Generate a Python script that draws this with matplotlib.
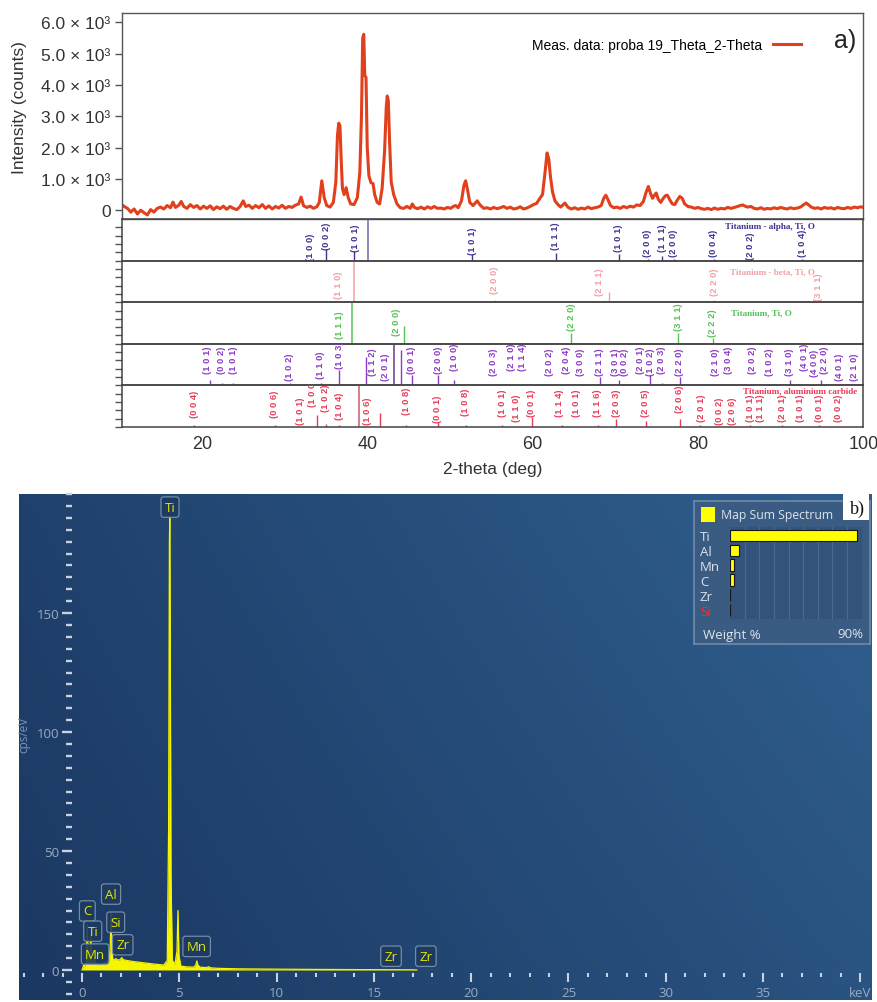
import matplotlib
matplotlib.use("Agg")
import matplotlib.pyplot as plt
import numpy as np
from matplotlib.patches import Rectangle
from matplotlib.ticker import FixedLocator, MultipleLocator

# ---------------- XRD measured pattern (2-theta, counts) ----------------
xrd_2theta = [10.0, 10.3, 10.6, 11.0, 11.4, 11.8, 12.2, 12.6, 13.0, 13.4, 13.8, 14.2, 14.6, 15.0,
              15.4, 15.8, 16.2, 16.5, 16.8, 17.2, 17.5, 17.8, 18.2, 18.6, 19.0, 19.4, 19.8, 20.2,
              20.6, 21.0, 21.4, 21.8, 22.2, 22.6, 23.0, 23.4, 23.8, 24.2, 24.6, 25.0, 25.3, 25.7,
              26.1, 26.5, 26.9, 27.3, 27.7, 28.1, 28.5, 28.9, 29.3, 29.7, 30.1, 30.5, 30.9, 31.3,
              31.7, 32.0, 32.3, 32.7, 33.1, 33.5, 33.9, 34.2, 34.5, 34.8, 35.1, 35.5, 35.9, 36.2,
              36.4, 36.55, 36.7, 36.85, 37.0, 37.2, 37.45, 37.7, 38.0, 38.4, 38.8, 39.1, 39.3, 39.45,
              39.58, 39.7, 39.85, 40.0, 40.2, 40.45, 40.7, 40.9, 41.2, 41.5, 41.8, 42.1, 42.3, 42.42,
              42.55, 42.7, 42.9, 43.2, 43.6, 44.0, 44.4, 44.8, 45.2, 45.45, 45.7, 46.1, 46.5, 46.9,
              47.3, 47.7, 48.1, 48.5, 48.9, 49.3, 49.7, 50.1, 50.4, 50.7, 51.0, 51.4, 51.7, 51.9,
              52.1, 52.4, 52.8, 53.3, 53.7, 54.1, 54.5, 54.9, 55.3, 55.7, 56.1, 56.5, 56.9, 57.3,
              57.7, 58.1, 58.5, 58.9, 59.3, 59.7, 60.1, 60.5, 60.8, 61.2, 61.5, 61.75, 61.95, 62.15,
              62.4, 62.7, 63.0, 63.4, 63.9, 64.3, 64.7, 65.1, 65.5, 65.9, 66.3, 66.7, 67.1, 67.5,
              67.9, 68.3, 68.6, 68.85, 69.1, 69.4, 69.8, 70.2, 70.6, 71.0, 71.4, 71.8, 72.2, 72.6,
              73.0, 73.4, 73.7, 74.0, 74.25, 74.5, 74.75, 74.95, 75.2, 75.5, 75.8, 76.1, 76.3, 76.6,
              76.9, 77.2, 77.5, 77.8, 78.1, 78.4, 78.8, 79.2, 79.6, 80.0, 80.4, 80.8, 81.2, 81.6,
              82.0, 82.4, 82.8, 83.2, 83.6, 84.0, 84.4, 84.8, 85.1, 85.4, 85.7, 86.0, 86.4, 86.8,
              87.2, 87.6, 88.0, 88.4, 88.8, 89.2, 89.6, 90.0, 90.4, 90.8, 91.2, 91.6, 92.0, 92.4,
              92.8, 93.1, 93.4, 93.7, 94.1, 94.5, 94.9, 95.3, 95.7, 96.1, 96.5, 96.9, 97.3, 97.7,
              98.1, 98.5, 98.9, 99.3, 99.7, 100.0]
xrd_counts = [230, 180, 120, 60, -60, 40, -120, 0, -80, -150, 20, -60, 60, 100,
              40, 150, 80, 260, 90, 160, 280, 120, 60, 180, 90, 150, 40, 130,
              60, 140, 20, 110, 50, 130, 30, 120, 60, 20, 110, 300, 120, 160,
              60, 150, 80, 180, 60, 140, 40, 120, 70, 160, 60, 120, 90, 160,
              200, 420, 140, 90, 130, 60, 110, 250, 940, 400, 150, 100, 250, 900,
              2400, 2780, 2700, 1600, 700, 500, 720, 400, 200, 180, 400, 1200, 3000, 5500,
              5620, 4300, 4250, 2000, 1100, 880, 850, 500, 250, 200, 700, 1900, 3300, 3650,
              3500, 2200, 900, 500, 200, 80, 60, 120, 60, 200, 90, 50, 100, 40,
              110, 60, 120, 60, 70, 40, 90, 60, 120, 150, 80, 300, 800, 940,
              700, 250, 150, 300, 150, 60, 80, 40, 90, 50, 80, 120, 60, 100,
              40, 60, 110, 40, 70, 120, 180, 220, 350, 500, 1200, 1830, 1650, 1100,
              600, 300, 200, 100, 230, 90, 40, 80, 30, 70, 40, 100, 50, 80,
              100, 150, 380, 480, 350, 160, 80, 100, 60, 120, 80, 130, 100, 170,
              150, 280, 550, 760, 550, 380, 480, 550, 350, 250, 380, 470, 480, 330,
              200, 180, 320, 440, 380, 200, 120, 100, 60, 90, 50, 30, 60, 20,
              70, 30, 60, 40, 90, 60, 90, 120, 150, 170, 130, 100, 120, 60,
              40, 80, 30, 60, 40, 80, 50, 90, 60, 40, 80, 50, 70, 100,
              180, 230, 170, 100, 60, 80, 40, 90, 60, 80, 40, 90, 60, 50,
              90, 60, 100, 80, 110, 90]
ytick_vals = [0, 1000, 2000, 3000, 4000, 5000, 6000]
ytick_text = ["0", "1.0 \u00d7 10\u00b3", "2.0 \u00d7 10\u00b3", "3.0 \u00d7 10\u00b3",
              "4.0 \u00d7 10\u00b3", "5.0 \u00d7 10\u00b3", "6.0 \u00d7 10\u00b3"]
xtick_vals = [20, 40, 60, 80, 100]

# ---------------- reference patterns ----------------
alpha_line_pos = [33.1, 35.0, 38.4, 40.1, 52.7, 62.8, 70.4, 73.9, 75.7, 77.1, 81.9, 86.4, 92.6]
alpha_line_int = [0.03, 0.29, 0.24, 1.0, 0.17, 0.19, 0.17, 0.05, 0.10, 0.05, 0.05, 0.03, 0.05]
alpha_hkl = ['100', '002', '101', '101', '111', '101', '200', '111', '200', '004', '202', '104']
alpha_hkl_pos = [33.1, 35.1, 38.6, 52.7, 62.8, 70.4, 73.9, 75.7, 77.1, 81.9, 86.4, 92.6]
alpha_hkl_base = [0.02, 0.29, 0.24, 0.17, 0.29, 0.22, 0.10, 0.22, 0.10, 0.10, 0.05, 0.10]

beta_line_pos = [38.35, 55.4, 69.3, 81.9, 94.6]
beta_line_int = [1.0, 0.05, 0.24, 0.06, 0.03]
beta_hkl = ['110', '200', '211', '220', '311']
beta_hkl_pos = [36.5, 55.4, 68.1, 82.0, 94.6]
beta_hkl_base = [0.10, 0.22, 0.17, 0.17, 0.05]

tio_line_pos = [38.2, 44.4, 64.7, 77.6, 81.8]
tio_line_int = [1.0, 0.43, 0.26, 0.26, 0.14]
tio_hkl = ['111', '200', '220', '311', '222']
tio_hkl_pos = [36.6, 43.5, 64.7, 77.6, 81.8]
tio_hkl_base = [0.14, 0.22, 0.34, 0.34, 0.19]

p4_line_pos = [21.0, 22.4, 23.8, 30.6, 34.4, 36.6, 39.8, 43.2, 44.1, 45.4, 48.6, 50.5, 55.3,
               57.4, 62.0, 64.1, 65.8, 68.1, 70.5, 74.2, 75.6, 77.8, 82.1, 83.7, 86.6, 88.7,
               91.1, 94.9, 97.1]
p4_line_int = [0.12, 0.06, 0.05, 0.05, 0.05, 0.36, 0.69, 1.0, 0.86, 0.24, 0.24, 0.12, 0.04,
               0.04, 0.04, 0.04, 0.04, 0.20, 0.12, 0.26, 0.06, 0.20, 0.04, 0.04, 0.04, 0.04,
               0.14, 0.14, 0.04]
p4_hkl = ['101', '002', '101', '102', '110', '103', '112', '201', '001', '200',
          '100', '203', '210', '114', '202', '204', '300', '211', '301', '002',
          '201', '102', '203', '220', '210', '304', '202', '102', '310', '401',
          '400', '220', '401', '210']
p4_hkl_pos = [20.7, 22.4, 23.8, 30.6, 34.4, 36.6, 40.6, 42.2, 45.4, 48.6,
              50.5, 55.3, 57.4, 58.8, 62.0, 64.1, 65.8, 68.1, 70.0, 71.1,
              73.1, 74.3, 75.6, 77.8, 82.1, 83.7, 86.6, 88.7, 91.1, 92.9,
              94.1, 95.3, 97.1, 98.9]
p4_hkl_base = [0.31, 0.31, 0.31, 0.14, 0.17, 0.43, 0.26, 0.14, 0.31, 0.31,
               0.38, 0.26, 0.36, 0.36, 0.26, 0.31, 0.26, 0.26, 0.26, 0.26,
               0.31, 0.26, 0.31, 0.26, 0.26, 0.31, 0.31, 0.26, 0.26, 0.36,
               0.22, 0.30, 0.12, 0.12]

p5_line_pos = [19.1, 28.8, 33.9, 35.0, 36.6, 39.0, 41.6, 44.7, 48.5, 51.9, 56.3, 59.9, 63.5,
               67.9, 70.1, 73.7, 77.8, 80.2, 86.3, 90.2, 94.7]
p5_line_int = [0.05, 0.05, 0.28, 0.08, 0.05, 1.0, 0.33, 0.05, 0.12, 0.04, 0.05, 0.25, 0.05,
               0.05, 0.20, 0.15, 0.20, 0.04, 0.04, 0.04, 0.04]
p5_hkl = ['004', '006', '101', '100', '102', '104', '106', '108', '001', '108',
          '101', '110', '001', '114', '101', '116', '203', '205', '206', '201',
          '002', '206', '101', '111', '201', '101', '001', '002']
p5_hkl_pos = [19.1, 28.8, 31.9, 33.4, 35.0, 36.6, 40.0, 44.7, 48.5, 51.9,
              56.3, 58.0, 59.9, 63.2, 65.3, 67.9, 70.2, 73.7, 77.8, 80.4,
              82.6, 84.2, 86.3, 87.6, 90.2, 92.4, 94.7, 97.0]
p5_hkl_base = [0.24, 0.24, 0.07, 0.50, 0.38, 0.19, 0.07, 0.31, 0.12, 0.29,
               0.26, 0.14, 0.26, 0.26, 0.26, 0.26, 0.26, 0.26, 0.36, 0.14,
               0.07, 0.07, 0.14, 0.14, 0.14, 0.14, 0.14, 0.14]

phase_titles = ["Titanium - alpha, Ti, O", "Titanium - beta, Ti, O", "Titanium, Ti, O", "",
                "Titanium, aluminium carbide"]

# ---------------- EDS spectrum ----------------
eds_kev = [0.0, 0.08, 0.15, 0.22, 0.27, 0.31, 0.36, 0.41, 0.45, 0.49, 0.54, 0.60, 0.64, 0.68,
           0.75, 0.85, 1.0, 1.15, 1.3, 1.40, 1.45, 1.49, 1.53, 1.58, 1.66, 1.74, 1.82, 1.95,
           2.04, 2.12, 2.3, 2.6, 3.0, 3.4, 3.8, 4.2, 4.38, 4.45, 4.49, 4.51, 4.53, 4.57, 4.64,
           4.78, 4.88, 4.93, 4.98, 5.08, 5.4, 5.75, 5.85, 5.90, 5.95, 6.05, 6.4, 6.5, 6.6,
           7.0, 8.0, 10.0, 12.0, 14.0, 16.0, 17.0, 17.2]
eds_cps = [0, 2, 1.5, 4, 19, 3.5, 2.5, 5, 15, 4, 3, 3.5, 5, 3,
           2.5, 2.2, 2.5, 3, 3.6, 4.5, 10, 24, 10, 4.5, 4.3, 4.8, 4.2, 4.3,
           5.2, 4.3, 4.0, 3.6, 3.2, 2.8, 2.4, 2.1, 4, 60, 180, 190, 150, 40, 4,
           2.5, 8, 25, 6, 1.6, 1.3, 1.2, 2.2, 3.8, 2.2, 1.2, 1.0, 1.4, 0.9,
           0.7, 0.5, 0.35, 0.25, 0.18, 0.12, 0.08, 0]
eds_peak_labels = ['Ti', 'C', 'Ti', 'Mn', 'Al', 'Si', 'Zr', 'Mn', 'Zr', 'Zr']
eds_peak_kev = [4.52, 0.27, 0.55, 0.67, 1.49, 1.73, 2.09, 5.89, 15.88, 17.67]
eds_peak_cps = [194.5, 24.8, 16.3, 6.7, 31.9, 20.1, 10.6, 9.9, 5.8, 5.8]
eds_ytick_major = [0, 50, 100, 150]
eds_xtick_major = [0, 5, 10, 15, 20, 25, 30, 35, 40]
eds_xtick_text = ['0', '5', '10', '15', '20', '25', '30', '35', 'keV']

wt_elements = ['Ti', 'Al', 'Mn', 'C', 'Zr', 'Si']
wt_percent = [86.5, 6.4, 2.7, 2.7, 0.3, 0.2]

# ---------------- figure ----------------
W, H = 877, 1003
plt.rcParams['font.family'] = ['Liberation Sans', 'DejaVu Sans']
fig = plt.figure(figsize=(W / 100, H / 100), dpi=100)
UI = ['Open Sans', 'DejaVu Sans']


def rect(l, t, r, b):
    return [l / W, 1 - b / H, (r - l) / W, (b - t) / H]


XL, XR = 121.7, 863.3
XMIN, XMAX = 10.3, 100.0
ax = fig.add_axes(rect(XL, 14, XR, 220))
ax.plot(xrd_2theta, xrd_counts, color='#e2401c', lw=2.2, solid_joinstyle='round',
        label='Meas. data: proba 19_Theta_2-Theta')
ax.set_xlim(XMIN, XMAX)
ax.set_ylim(-280, 6300)
ax.set_xticks([])
ax.set_yticks(ytick_vals)
ax.set_yticklabels(ytick_text, fontsize=12.5, color='#333333')
ax.tick_params(axis='y', length=5, width=1, color='#555555', pad=3)
for s in ax.spines.values():
    s.set_color('#555555')
    s.set_linewidth(1.0)
ax.set_ylabel('Intensity (counts)', fontsize=12.5, color='#333333')
ax.yaxis.set_label_coords((27 - XL) / (XR - XL), 0.544)
ax.legend(loc='upper right', bbox_to_anchor=(801 / W, 1 - 39 / H), bbox_transform=fig.transFigure,
          frameon=False, markerfirst=False, fontsize=10, handlelength=2.0, handletextpad=0.8,
          borderpad=0, borderaxespad=0)
fig.text(845 / W, 1 - 41 / H, 'a)', fontsize=18, ha='center', va='center', color='#222222')

strips = [
    (alpha_line_pos, alpha_line_int, alpha_hkl, alpha_hkl_pos, alpha_hkl_base, '#3d3594', '#6e6aa0', (88.7, 0.83)),
    (beta_line_pos, beta_line_int, beta_hkl, beta_hkl_pos, beta_hkl_base, '#f2a0a6', '#f2a0a6', (89.0, 0.75)),
    (tio_line_pos, tio_line_int, tio_hkl, tio_hkl_pos, tio_hkl_base, '#55c255', '#55c255', (87.7, 0.76)),
    (p4_line_pos, p4_line_int, p4_hkl, p4_hkl_pos, p4_hkl_base, '#8c3cc4', '#6a3c96', (0, 0)),
    (p5_line_pos, p5_line_int, p5_hkl, p5_hkl_pos, p5_hkl_base, '#e83c58', '#c46070', (92.4, 0.87)),
]
SH = 41.6
for i, (lp, li, hkl, hp, hb, col, tallcol, tpos) in enumerate(strips):
    top = 220 + SH * i
    sa = fig.add_axes(rect(XL, top, XR, top + SH))
    sa.set_xlim(XMIN, XMAX)
    sa.set_ylim(0, 1)
    sa.patch.set_alpha(0)
    for s in sa.spines.values():
        s.set_color('#444444')
        s.set_linewidth(1.1)
    sa.set_yticks([0.0, 0.2, 0.4, 0.6, 0.8])
    sa.set_yticklabels([])
    sa.tick_params(axis='y', length=5, width=1, color='#555555')
    for x, h in zip(lp, li):
        c = tallcol if h >= 0.99 else col
        sa.vlines(x, 0, h, color=c, lw=1.1 if h >= 0.99 else 1.0)
    for t, x, b in zip(hkl, hp, hb):
        sa.text(x, b, '(' + ' '.join(t) + ')', rotation=90, ha='center', va='bottom',
                fontsize=6.8, fontweight='bold', color=col, clip_on=True)
    if phase_titles[i]:
        sa.text(tpos[0], tpos[1], phase_titles[i], ha='center', va='center', fontsize=6.6,
                fontweight='bold', family='Liberation Serif', color=col)
    if i < 4:
        sa.set_xticks([])
    else:
        sa.set_xticks(xtick_vals)
        sa.set_xticklabels([str(v) for v in xtick_vals], fontsize=13, color='#333333')
        sa.tick_params(axis='x', length=0, pad=6)
        sa.set_xlabel('2-theta (deg)', fontsize=12.5, color='#333333', labelpad=6)

# ---------------- EDS panel ----------------
EX0, EX1 = -3.24, 40.6
EY0, EY1 = -12.6, 200.0
ax2 = fig.add_axes(rect(19, 495, 872, 1001))
ny, nx = 60, 80
yy, xx = np.mgrid[0:1:ny * 1j, 0:1:nx * 1j]
tgrad = np.clip(0.75 * xx + 0.35 * (1 - yy) - 0.1 * (1 - yy) * (1 - xx), 0, 1)
c0 = np.array([0x1b, 0x38, 0x62]) / 255
c1 = np.array([0x2e, 0x5c, 0x8b]) / 255
img = c0[None, None, :] * (1 - tgrad[..., None]) + c1[None, None, :] * tgrad[..., None]
ax2.imshow(img, extent=[EX0, EX1, EY0, EY1], aspect='auto', origin='upper', zorder=0,
           interpolation='bicubic')
ax2.set_xlim(EX0, EX1)
ax2.set_ylim(EY0, EY1)
ax2.fill_between(eds_kev, eds_cps, 0, color='#f5f500', lw=0, zorder=3)
ax2.plot(eds_kev, eds_cps, color='#f5f500', lw=0.9, zorder=4)
for s in ['top', 'right']:
    ax2.spines[s].set_visible(False)
ax2.spines['left'].set_position(('data', -0.514))
ax2.spines['bottom'].set_position(('data', -1.3))
ax2.spines['left'].set_visible(False)
ax2.spines['bottom'].set_visible(False)
ax2.yaxis.set_major_locator(FixedLocator(eds_ytick_major))
ax2.yaxis.set_minor_locator(MultipleLocator(5))
ax2.set_yticklabels([str(v) for v in eds_ytick_major])
ax2.xaxis.set_major_locator(FixedLocator(eds_xtick_major))
ax2.xaxis.set_minor_locator(MultipleLocator(1))
ax2.set_xticklabels(eds_xtick_text)
ax2.tick_params(axis='y', which='major', length=7.2, width=1.7, color='#c8d1dc',
                labelcolor='#9aabc2', labelsize=9.5, pad=2)
ax2.tick_params(axis='y', which='minor', length=4.3, width=1.7, color='#c8d1dc')
ax2.tick_params(axis='x', which='major', length=6.5, width=1.5, color='#c8d1dc',
                labelcolor='#9aabc2', labelsize=9.5, pad=3)
ax2.tick_params(axis='x', which='minor', length=2.9, width=1.5, color='#c8d1dc')
for lab in ax2.get_xticklabels() + ax2.get_yticklabels():
    lab.set_family(UI)
ax2.set_ylabel('cps/eV', fontsize=8.5, color='#7d93b3', family=UI)
ax2.yaxis.set_label_coords((30 - 19) / (872 - 19), (1001 - 735) / (1001 - 495))
ax2.set_ylim(EY0, EY1)
ax2.set_xlim(EX0, EX1)

for t, x, y in zip(eds_peak_labels, eds_peak_kev, eds_peak_cps):
    ax2.text(x, y, t, ha='center', va='center', fontsize=9.5, color='#e6e600', zorder=6,
             family=UI,
             bbox=dict(boxstyle='round,pad=0.28,rounding_size=0.2', fc='#1d3a60', ec='#7f93ae', lw=0.9,
                       alpha=0.9))

# inset weight-% panel
inset = fig.add_axes(rect(694, 502, 870, 645))
inset.set_facecolor('#3a5c83')
inset.set_xticks([])
inset.set_yticks([])
for s in inset.spines.values():
    s.set_color('#7089a8')
    s.set_linewidth(1.2)
bars = fig.add_axes(rect(730, 527.5, 861.7, 620))
bars.set_facecolor('#33537a')
bars.barh(range(len(wt_elements)), wt_percent, height=0.78, color='#ffff00', edgecolor='#161616',
          lw=0.8, zorder=3)
bars.set_xlim(0, 90)
bars.set_ylim(len(wt_elements) - 0.4, -0.6)
bars.set_xticks(np.arange(10, 90, 10))
bars.grid(axis='x', color='#4a6a90', lw=0.8, zorder=0)
bars.tick_params(axis='x', length=0, labelbottom=False)
bars.set_yticks(range(len(wt_elements)))
bars.set_yticklabels(wt_elements, fontsize=9.5, family=UI)
bars.tick_params(axis='y', length=0, pad=(730 - 700) * 0.72)
for lab, e in zip(bars.get_yticklabels(), wt_elements):
    lab.set_ha('left')
    lab.set_color('#ff2a2a' if e == 'Si' else '#dbe3ec')
for s in bars.spines.values():
    s.set_visible(False)

fig.patches.append(Rectangle((701 / W, 1 - 523 / H), 14 / W, 15 / H, transform=fig.transFigure,
                             fc='#ffff00', ec='none', zorder=5))
fig.text(721 / W, 1 - 515.5 / H, 'Map Sum Spectrum', fontsize=8.8, color='#dbe3ec', va='center',
         family=UI, zorder=6)
fig.text(703 / W, 1 - 635 / H, 'Weight %', fontsize=9.5, color='#dbe3ec', va='center',
         family=UI, zorder=6)
fig.text(863 / W, 1 - 635 / H, '90%', fontsize=9.5, color='#dbe3ec', va='center', ha='right',
         family=UI, zorder=6)

fig.patches.append(Rectangle((843 / W, 1 - 521 / H), 26 / W, 27 / H, transform=fig.transFigure,
                             fc='white', ec='none', zorder=5))
fig.text(857 / W, 1 - 509 / H, 'b)', fontsize=13, color='#111111', ha='center', va='center',
         family='Liberation Serif', zorder=6)

fig.savefig('out.png', dpi=100)
